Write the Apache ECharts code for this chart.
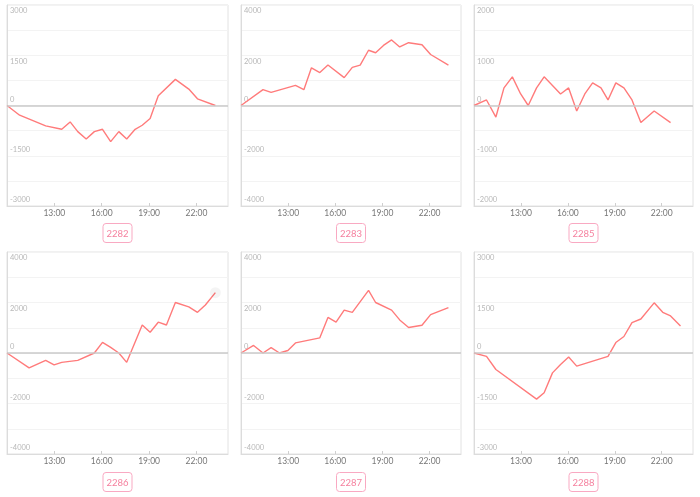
<!DOCTYPE html>
<html><head><meta charset="utf-8">
<script src="https://cdn.jsdelivr.net/npm/echarts@6/dist/echarts.min.js"></script>
<style>html,body{margin:0;padding:0;background:#fff}#c{width:700px;height:497px}</style>
</head><body><div id="c"></div>
<script>
// shared sample times
const times = ['10:00','10:48','11:24','11:55','12:27','12:59','13:28','14:00','14:29','15:01','15:32','16:03','16:34','17:05','17:35','18:07','18:34','19:04','19:35','20:06','20:40','21:31','22:04','22:34','23:12'];
const xTickLabels = ['13:00','16:00','19:00','22:00'];
const names = ['2282','2283','2285','2286','2287','2288'];
const v2282 = [0,-290,null,null,-610,null,-710,-490,-780,-1000,-780,-710,-1080,-780,-1000,-710,-590,-390,290,null,780,490,200,null,0];
const v2283 = [0,null,630,520,null,null,800,630,1500,1310,1610,null,1110,1520,1610,2200,2100,2390,2610,2330,2500,2420,2030,null,1610];
const v2285 = [0,110,-230,350,570,230,0,350,570,400,230,350,-110,230,450,350,110,450,350,110,-340,-110,null,-340,null];
const v2286 = [0,null,-590,null,-290,-470,-370,null,-290,null,0,420,220,0,-370,null,1110,820,1220,1110,2000,1830,1610,1900,2390];
const v2287 = [0,300,0,210,0,100,400,null,null,600,1410,1220,1700,1610,null,2480,2000,null,1700,1310,1010,1100,1520,null,1800];
const v2288 = [0,-100,-490,null,null,null,null,-1370,-1180,-590,-340,-120,-390,null,null,null,-100,310,490,900,1010,1490,1210,1100,800];
const values = [v2282, v2283, v2285, v2286, v2287, v2288];
const yMax = [3000, 4000, 2000, 4000, 4000, 3000];

// layout (pixels)
const cols = [{left:7,width:221},{left:241,width:220},{left:474,width:219}];
const rows = [{top:5,height:201,titleTop:223},{top:252,height:202,titleTop:472}];

function hoursSince10(t){ const p=t.split(':'); return (+p[0]) + (+p[1])/60 - 10; }

const grid=[], xAxis=[], yAxis=[], series=[], title=[];
names.forEach((name,i)=>{
  const c = cols[i%3], r = rows[Math.floor(i/3)];
  const M = yMax[i];
  grid.push({left:c.left, width:c.width, top:r.top, height:r.height, show:true, borderColor:'#e2e2e2', borderWidth:1});
  xAxis.push({gridIndex:i, type:'value', min:0, max:14, interval:3,
    axisLine:{onZero:false, lineStyle:{color:'#dcdcdc'}},
    axisTick:{inside:true, length:3, lineStyle:{color:'#cfcfcf'}},
    splitLine:{show:false},
    axisLabel:{showMinLabel:false, showMaxLabel:false, margin:3, color:'#777', fontSize:8.5, fontFamily:'Lato',
      formatter: v => xTickLabels[Math.round(v/3)-1] || ''}
  });
  yAxis.push({gridIndex:i, type:'value', min:-M, max:M, interval:M/4,
    axisLine:{show:true, lineStyle:{color:'#dcdcdc'}},
    axisTick:{show:false},
    splitLine:{lineStyle:{color:'#f3f3f3'}},
    axisLabel:{inside:true, margin:3, color:'#b8b8b8', fontSize:7.5, fontFamily:'Lato',
      formatter: v => (Math.abs(v) % (M/2) === 0) ? (v>0 ? '{u|'+v+'}' : '{d|'+v+'}') : '',
      rich:{u:{padding:[12,0,0,0], color:'#b8b8b8', fontSize:7.5, fontFamily:'Lato'},
            d:{padding:[0,0,12,0], color:'#b8b8b8', fontSize:7.5, fontFamily:'Lato'}}}
  });
  const data = times.map((t,k)=>[hoursSince10(t), values[i][k]]);
  const s = {type:'line', xAxisIndex:i, yAxisIndex:i, data:data, symbol:'none', connectNulls:true,
    lineStyle:{color:'#ff7b7b', width:1.4}, itemStyle:{color:'#ff7b7b'},
    markLine:{silent:true, symbol:'none', label:{show:false}, animation:false,
      lineStyle:{color:'#cacaca', type:'solid', width:1.5}, data:[{yAxis:0}]}
  };
  if (i===3) {
    const last = data[data.length-1];
    s.markPoint = {silent:true, symbol:'circle', symbolSize:11, label:{show:false},
      itemStyle:{color:'rgba(0,0,0,0.045)'}, data:[{coord:last}]};
  }
  series.push(s);
  title.push({text:name, left:c.left + c.width/2 - 4, top:r.titleTop, textAlign:'center',
    padding:[5,4,4,4], borderColor:'#f9a9c2', borderWidth:1, borderRadius:3,
    textStyle:{color:'#f5819f', fontSize:9.5, lineHeight:11, fontWeight:'normal', fontFamily:'Lato'}});
});

const chart = echarts.init(document.getElementById('c'));
chart.setOption({animation:false, title, grid, xAxis, yAxis, series});
</script>
</body></html>
